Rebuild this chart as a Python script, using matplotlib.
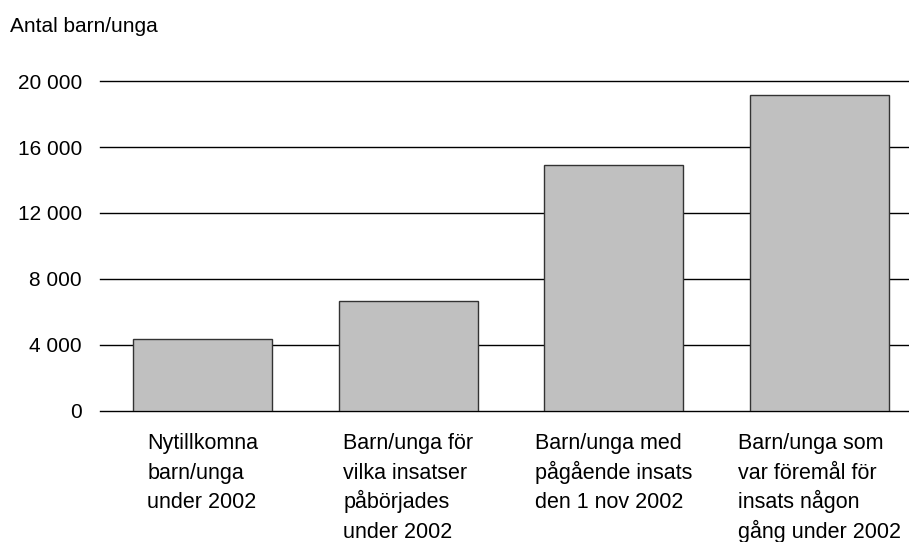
import matplotlib.pyplot as plt
from matplotlib.ticker import FuncFormatter
from matplotlib.transforms import ScaledTranslation

plt.rcParams["font.family"] = ["Liberation Sans", "DejaVu Sans"]

categories = [
    "Nytillkomna\nbarn/unga\nunder 2002",
    "Barn/unga för\nvilka insatser\npåbörjades\nunder 2002",
    "Barn/unga med\npågående insats\nden 1 nov 2002",
    "Barn/unga som\nvar föremål för\ninsats någon\ngång under 2002",
]
values = [4350, 6650, 14900, 19150]
yticks = [0, 4000, 8000, 12000, 16000, 20000]

W, H = 909, 542
fig = plt.figure(figsize=(W / 100, H / 100), dpi=100)
# axes runs a bit past the right edge of the figure, as in the original
ax = fig.add_axes([100 / W, 131 / H, 822 / W, 330 / H])

x = list(range(len(values)))
ax.bar(x, values, width=0.676, color="#c0c0c0", edgecolor="#333333", linewidth=1.0, zorder=2)

ax.set_xlim(-0.5, len(values) - 0.5)
ax.set_ylim(0, 20000)
ax.set_yticks(yticks)
ax.yaxis.set_major_formatter(FuncFormatter(lambda v, p: f"{int(v):,}".replace(",", " ")))
ax.set_xticks([])
ax.tick_params(axis="y", length=0, pad=13, labelsize=15)
for y in yticks:
    ax.axhline(y, color="black", linewidth=1.0, zorder=0, clip_on=False)
for s in ax.spines.values():
    s.set_visible(False)

# category labels: left-aligned lines, block centred under each bar, fixed line pitch
renderer = fig.canvas.get_renderer()
first_base, pitch = 38, 29.7  # pixels below the zero line
for i, lab in enumerate(categories):
    lines = lab.split("\n")
    texts = [ax.text(i, 0, ln, transform=ax.get_xaxis_transform(), ha="left",
                     va="baseline", fontsize=15.5) for ln in lines]
    wmax = max(t.get_window_extent(renderer).width for t in texts)
    for k, t in enumerate(texts):
        off = ScaledTranslation(-wmax / 2 / 100, -(first_base + k * pitch) / 100, fig.dpi_scale_trans)
        t.set_transform(ax.get_xaxis_transform() + off)

fig.text(10 / W, 1 - 32 / H, "Antal barn/unga", fontsize=15, ha="left", va="baseline")

fig.savefig("out.png", dpi=100)
